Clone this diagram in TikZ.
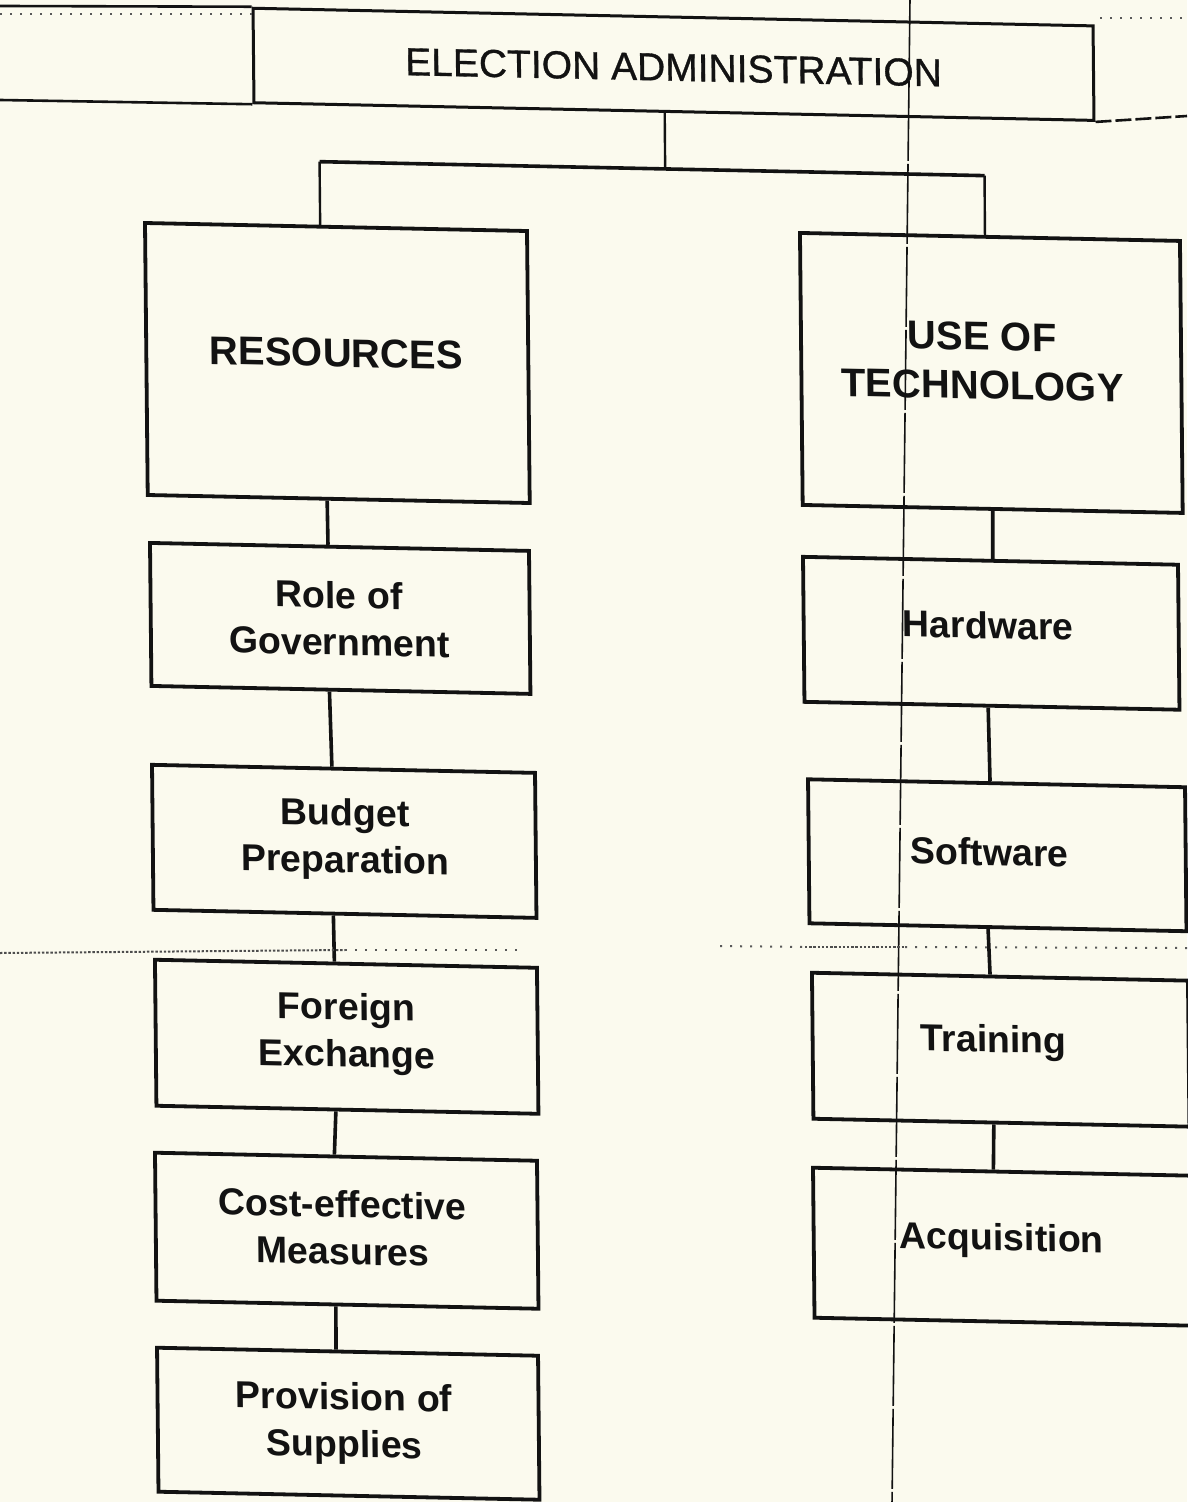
\documentclass[tikz,border=0pt]{standalone}
\usepackage{fontspec}
\setmainfont{Liberation Sans}
\newfontfamily\headfont[FakeBold=0.8]{Liberation Sans}
\usetikzlibrary{calc}
\definecolor{paper}{RGB}{251,250,238}
\definecolor{ink}{RGB}{18,18,18}
\begin{document}
\begin{tikzpicture}[x=0.5pt,y=-0.5pt,
  boxsize/.style 2 args={minimum width=#1*0.5pt, minimum height=#2*0.5pt},
  unitbox/.style={draw=ink, line width=1.9pt, rectangle, inner sep=0pt},
  headbox/.style={draw=ink, line width=1.5pt, rectangle, inner sep=0pt, text=ink,
    font=\headfont\fontsize{19.5}{23}\selectfont},
  bigtext/.style={text=ink, align=center, inner sep=0pt,
    font=\bfseries\fontsize{20}{24.5}\selectfont},
  smalltext/.style={text=ink, align=center, inner sep=0pt,
    font=\bfseries\fontsize{18.75}{23.5}\selectfont},
  link/.style={draw=ink, line width=1.8pt},
  thinlink/.style={draw=ink, line width=1.2pt},
  pageline/.style={draw=ink, line width=1.3pt},
  fold/.style={draw=ink, line width=0.8pt, dash pattern=on 40pt off 1.5pt},
  grain/.style={draw=ink!75, line width=1pt, dash pattern=on 1.2pt off 0.9pt},
  sparse/.style={draw=ink!70, line width=1pt, dash pattern=on 1pt off 4pt}]

\fill[paper] (0,0) rectangle (1187,1502);
\useasboundingbox (0,0) rectangle (1187,1502);

% the chart itself, slightly sheared as on the printed sheet
\begin{scope}[cm={1,-0.021,-0.01,1,(0,0)}, transform shape]
  % head box
  \node[headbox, boxsize={840}{94.5}] (title) at (673,50.2) {};
  \node[headbox, draw=none] (titleT) at ($(title.center)+(0,3)$) {ELECTION ADMINISTRATION};

  % left column
  \node[unitbox, boxsize={382}{272}] (res)  at (333.8,356)    {};
  \node[unitbox, boxsize={379}{143}] (role) at (334.1,611.4)  {};
  \node[unitbox, boxsize={383}{145}] (bud)  at (335.9,834.3)  {};
  \node[unitbox, boxsize={382}{146}] (fx)   at (336.4,1029.7) {};
  \node[unitbox, boxsize={382}{148}] (cost) at (334.5,1223.7) {};
  \node[unitbox, boxsize={381}{144}] (prov) at (334.1,1416.7) {};

  % right column
  \node[unitbox, boxsize={380}{272}] (use) at (987.8,352.2)  {};
  \node[unitbox, boxsize={375}{145}] (hw)  at (985.1,612.6)  {};
  \node[unitbox, boxsize={377}{144}] (sw)  at (988.9,834.5)  {};
  \node[unitbox, boxsize={376}{146}] (tr)  at (990.4,1028.9) {};
  \node[unitbox, boxsize={380}{150}] (acq) at (991.5,1225.9) {};

  % labels
  \node[bigtext]   (resT)  at ($(res.center)+(-1,-10)$)  {RESOURCES};
  \node[bigtext]   (useT)  at ($(use.center)+(-9,-12)$)  {USE OF\\TECHNOLOGY};
  \node[smalltext] (roleT) at ($(role.center)+(-1,0)$)   {Role of\\Government};
  \node[smalltext] (budT)  at ($(bud.center)+(1,-2)$)    {Budget\\Preparation};
  \node[smalltext] (fxT)   at ($(fx.center)+(0,-3)$)     {Foreign\\Exchange};
  \node[smalltext] (costT) at ($(cost.center)+(-4,-3)$)  {Cost-effective\\Measures};
  \node[smalltext] (provT) at ($(prov.center)+(-4,0)$)   {Provision of\\Supplies};
  \node[smalltext] (hwT)   at ($(hw.center)+(-3,-8)$)    {Hardware};
  \node[smalltext] (swT)   at ($(sw.center)+(-8,-3)$)    {Software};
  \node[smalltext] (trT)   at ($(tr.center)+(-7,-7)$)    {Training};
  \node[smalltext] (acqT)  at ($(acq.center)+(-2,-6)$)   {Acquisition};

  % branching from the head box
  \coordinate (jn) at (663.6,155);
  \coordinate (jl) at (318,155);
  \coordinate (jr) at (983,155);
  \draw[thinlink] ($(title.south west)!0.489!(title.south east)$) -- (jn);
  \draw[link] (jl) -- (jr);
  \draw[thinlink] (jl) -- ($(res.north west)!0.459!(res.north east)$);
  \draw[thinlink] (jr) -- ($(use.north west)!0.487!(use.north east)$);

  % left chain
  \draw[link] ($(res.south west)!0.47!(res.south east)$)   -- ($(role.north west)!0.47!(role.north east)$);
  \draw[link] ($(role.south west)!0.47!(role.south east)$) -- ($(bud.north west)!0.47!(bud.north east)$);
  \draw[link] ($(bud.south west)!0.47!(bud.south east)$)   -- ($(fx.north west)!0.47!(fx.north east)$);
  \draw[link] ($(fx.south west)!0.47!(fx.south east)$)     -- ($(cost.north west)!0.47!(cost.north east)$);
  \draw[link] ($(cost.south west)!0.47!(cost.south east)$) -- ($(prov.north west)!0.47!(prov.north east)$);

  % right chain
  \draw[link] ($(use.south west)!0.5!(use.south east)$)   -- ($(hw.north west)!0.506!(hw.north east)$);
  \draw[link] ($(hw.south west)!0.49!(hw.south east)$)    -- ($(sw.north west)!0.483!(sw.north east)$);
  \draw[link] ($(sw.south west)!0.474!(sw.south east)$)   -- ($(tr.north west)!0.474!(tr.north east)$);
  \draw[link] ($(tr.south west)!0.48!(tr.south east)$)    -- ($(acq.north west)!0.475!(acq.north east)$);
\end{scope}

% rules of the sheet around the head box
\coordinate (ptl) at (0,6);
\coordinate (pml) at (0,100);
\coordinate (pmr) at (1187,116);
\draw[pageline] (ptl) -- (title.north west);
\draw[pageline] (pml) -- (title.south west);
\draw[pageline, dash pattern=on 8pt off 2pt] (title.south east) -- (pmr);
\draw[sparse] (0,14) -- (252,14);
\draw[sparse] (1100,18) -- (1187,18);

% fold of the sheet
\coordinate (ftop) at (910,-2);
\coordinate (fbot) at (892,1504);
\draw[fold] (ftop) -- (fbot);

% grainy seam across the page
\draw[grain]  (0,953) -- (345,950);
\draw[sparse] (345,950) -- (520,950);
\draw[sparse] (720,946) -- (805,947);
\draw[grain]  (805,947) -- (905,947);
\draw[sparse] (905,947) -- (1187,948);
\end{tikzpicture}
\end{document}
